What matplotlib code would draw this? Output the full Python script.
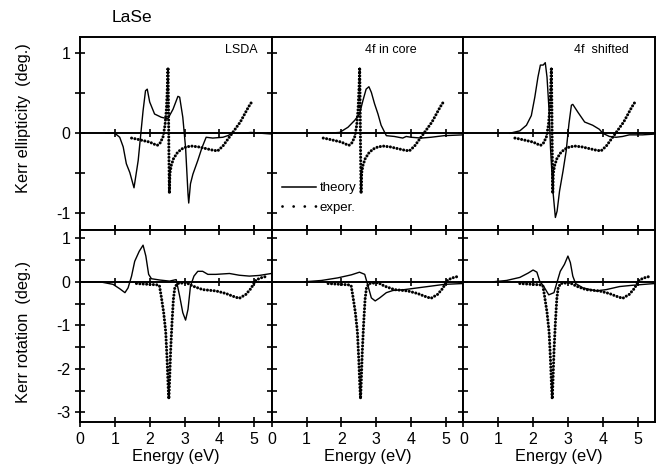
import numpy as np
import matplotlib.pyplot as plt
from matplotlib.lines import Line2D

plt.rcParams['font.family'] = ['Liberation Sans', 'DejaVu Sans']
plt.rcParams['axes.unicode_minus'] = False

# experiment (same in every panel)
exp_ell_x = [1.48, 1.6, 1.8, 2.0, 2.15, 2.22, 2.3, 2.38, 2.44, 2.48, 2.51, 2.525, 2.54, 2.55, 2.565,
             2.58, 2.62, 2.68, 2.78, 2.9, 3.05, 3.2, 3.4, 3.6, 3.8, 3.95, 4.1, 4.2, 4.3, 4.4, 4.5,
             4.6, 4.7, 4.8, 4.88, 4.93]
exp_ell_y = [-0.06, -0.07, -0.09, -0.11, -0.14, -0.15, -0.12, -0.05, 0.1, 0.3, 0.6, 0.82, 0.3, -0.2, -0.75,
             -0.5, -0.4, -0.32, -0.25, -0.2, -0.17, -0.16, -0.17, -0.19, -0.21, -0.22, -0.16, -0.1, -0.04,
             0.02, 0.08, 0.14, 0.22, 0.3, 0.36, 0.39]

exp_rot_x = [1.62, 1.8, 2.0, 2.2, 2.28, 2.33, 2.4, 2.46, 2.5, 2.53, 2.55, 2.57, 2.6, 2.64, 2.68, 2.72, 2.79,
             3.05, 3.24, 3.52, 3.9, 4.19, 4.38, 4.57, 4.76, 4.9, 5.05, 5.19, 5.38]
exp_rot_y = [-0.04, -0.05, -0.06, -0.07, -0.09, -0.33, -0.7, -1.15, -1.8, -2.4, -2.69, -2.3, -1.6, -0.94,
             -0.4, -0.14, -0.04, -0.02, -0.1, -0.18, -0.21, -0.27, -0.33, -0.38, -0.29, -0.16, 0.04, 0.09, 0.13]

# theory, ellipticity
lsda_ell_x = [0.74, 1.0, 1.14, 1.24, 1.33, 1.43, 1.55, 1.67, 1.81, 1.88, 1.93, 2.0, 2.14, 2.33, 2.52,
              2.67, 2.81, 2.86, 2.95, 3.03, 3.1, 3.12, 3.17, 3.24, 3.38, 3.5, 3.62, 3.81, 4.1, 4.24,
              4.38, 4.67, 4.9, 5.5]
lsda_ell_y = [0.0, 0.0, -0.05, -0.17, -0.38, -0.49, -0.68, -0.34, 0.28, 0.53, 0.55, 0.39, 0.24, 0.2, 0.18,
              0.3, 0.46, 0.45, 0.2, -0.18, -0.76, -0.87, -0.63, -0.51, -0.34, -0.18, -0.05, -0.06, -0.05,
              -0.03, 0.0, 0.0, 0.01, -0.01]
core_ell_x = [1.57, 1.95, 2.19, 2.38, 2.52, 2.62, 2.71, 2.79, 2.86, 2.95, 3.05, 3.14, 3.29, 3.52, 3.76,
              3.86, 4.0, 4.29, 4.57, 4.95, 5.5]
core_ell_y = [0.0, 0.01, 0.075, 0.16, 0.24, 0.41, 0.55, 0.58, 0.51, 0.37, 0.24, 0.1, -0.03, -0.04, -0.06,
              -0.04, -0.05, -0.06, -0.05, -0.03, -0.02]
shift_ell_x = [1.33, 1.62, 1.81, 1.95, 2.05, 2.14, 2.21, 2.29, 2.35, 2.4, 2.46, 2.5, 2.57, 2.64, 2.69,
               2.76, 2.86, 2.95, 3.03, 3.1, 3.14, 3.29, 3.48, 3.71, 3.9, 4.0, 4.19, 4.38, 4.57, 4.76,
               5.14, 5.5]
shift_ell_y = [0.0, 0.03, 0.1, 0.22, 0.45, 0.7, 0.85, 0.85, 0.88, 0.7, 0.28, -0.18, -0.72, -1.05, -0.97,
               -0.72, -0.47, -0.22, 0.12, 0.35, 0.36, 0.26, 0.14, 0.1, 0.05, 0.0, -0.04, -0.05, -0.04,
               -0.02, -0.02, -0.01]

# theory, rotation
lsda_rot_x = [0.0, 0.57, 0.95, 1.14, 1.29, 1.38, 1.48, 1.57, 1.7, 1.81, 1.89, 1.97, 2.05, 2.29, 2.57,
              2.76, 2.86, 2.95, 3.03, 3.1, 3.17, 3.27, 3.38, 3.52, 3.67, 3.9, 4.29, 4.57, 4.86, 5.14, 5.49]
lsda_rot_y = [0.0, 0.0, -0.06, -0.16, -0.25, -0.14, 0.13, 0.47, 0.7, 0.84, 0.59, 0.17, 0.07, 0.04, 0.015,
              0.05, -0.33, -0.71, -0.88, -0.63, -0.1, 0.13, 0.24, 0.24, 0.17, 0.17, 0.19, 0.15, 0.13, 0.145,
              0.19]
core_rot_x = [0.95, 1.43, 1.9, 2.29, 2.52, 2.67, 2.78, 2.86, 2.97, 3.1, 3.29, 3.48, 3.81, 4.19, 4.57,
              4.95, 5.5]
core_rot_y = [0.0, 0.03, 0.09, 0.16, 0.22, 0.17, -0.14, -0.37, -0.44, -0.37, -0.25, -0.2, -0.18, -0.14,
              -0.1, -0.06, -0.04]
shift_rot_x = [0.86, 1.24, 1.62, 1.86, 2.0, 2.11, 2.19, 2.3, 2.45, 2.6, 2.71, 2.78, 2.9, 3.0, 3.07, 3.14,
               3.22, 3.43, 3.81, 4.1, 4.48, 4.86, 5.5]
shift_rot_y = [0.0, 0.03, 0.1, 0.2, 0.27, 0.22, 0.015, -0.1, -0.3, -0.25, 0.05, 0.24, 0.4, 0.59, 0.44, 0.13,
               -0.04, -0.14, -0.21, -0.18, -0.11, -0.08, -0.04]

panel_names = ['LSDA', '4f in core', '4f  shifted']
name_x = [0.925, 0.755, 0.865]
theory_ell = [(lsda_ell_x, lsda_ell_y), (core_ell_x, core_ell_y), (shift_ell_x, shift_ell_y)]
theory_rot = [(lsda_rot_x, lsda_rot_y), (core_rot_x, core_rot_y), (shift_rot_x, shift_rot_y)]

fig, axes = plt.subplots(2, 3, figsize=(6.61, 4.66), dpi=100, sharex=True)
fig.subplots_adjust(left=0.121, right=0.991, top=0.9206, bottom=0.0944, wspace=0, hspace=0)

dots = dict(color='black', lw=2.2, linestyle=(0, (0.01, 1.1)), dash_capstyle='round')
for row in range(2):
    for col in range(3):
        ax = axes[row, col]
        if row == 0:
            tx, ty = theory_ell[col]
            ex, ey = exp_ell_x, exp_ell_y
        else:
            tx, ty = theory_rot[col]
            ex, ey = exp_rot_x, exp_rot_y
        ax.plot(tx, ty, color='black', lw=1.0)
        ax.plot(ex, ey, **dots)

        ax.set_xlim(0, 5.5)
        ax.set_xticks([0, 1, 2, 3, 4, 5])
        if row == 0:
            ax.set_ylim(-1.2, 1.2)
            ax.set_yticks([-1, 0, 1])
            ax.set_yticks([-0.5, 0.5], minor=True)
        else:
            ax.set_ylim(-3.22, 1.2)
            ax.set_yticks([-3, -2, -1, 0, 1])
            ax.set_yticks([-2.5, -1.5, -0.5, 0.5], minor=True)
        ax.tick_params(axis='y', which='both', direction='inout', length=7, width=1.2,
                       left=True, right=False, labelleft=(col == 0), labelsize=11.5)
        ax.tick_params(axis='x', which='both', direction='inout', length=7, width=1.2,
                       bottom=True, top=(row == 1), labelbottom=(row == 1), labelsize=11.5, pad=4)
        for sp in ax.spines.values():
            sp.set_linewidth(1.4)

        # zero line with its own ticks
        zax = ax.secondary_xaxis(0, transform=ax.transData)
        zax.set_xticks([1, 2, 3, 4, 5])
        zax.tick_params(axis='x', direction='inout', length=6, width=1.2, labelbottom=False,
                        labeltop=False)
        for sp in zax.spines.values():
            sp.set_linewidth(1.4)

        if row == 0:
            ax.text(name_x[col], 0.93, panel_names[col], transform=ax.transAxes,
                    ha='right', va='center', fontsize=9)
        else:
            ax.set_xlabel('Energy (eV)', fontsize=11.8, labelpad=1)

handles = [Line2D([], [], color='black', lw=1.1),
           Line2D([], [], color='black', lw=2.0, linestyle=(0, (0.01, 4.0)), dash_capstyle='round')]
axes[0, 1].legend(handles, ['theory', 'exper.'], loc='lower left', bbox_to_anchor=(-0.01, 0.02),
                  frameon=False, fontsize=9.5, handlelength=2.6, handletextpad=0.3, labelspacing=0.55)

fig.text(0.2, 0.963, 'LaSe', fontsize=12.5, ha='center', va='center')
fig.text(0.036, 0.747, 'Kerr ellipticity  (deg.)', rotation=90, ha='center', va='center', fontsize=11.8)
fig.text(0.036, 0.287, 'Kerr rotation  (deg.)', rotation=90, ha='center', va='center', fontsize=11.8)

fig.savefig('out.png', dpi=100)
